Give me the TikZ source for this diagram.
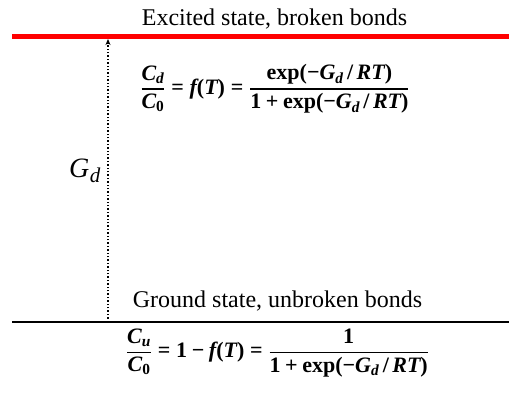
\documentclass[tikz,border=0pt]{standalone}
\usepackage{amsmath}
\usepackage{fontspec}
\setmainfont{Liberation Serif}
\usetikzlibrary{arrows.meta}
\newcommand{\bi}[1]{\text{\bfseries\itshape #1}}
\newcommand{\bu}[1]{\text{\bfseries #1}}
\tikzset{
  label/.style={inner sep=0pt, font=\fontsize{24}{28}\selectfont},
  biglabel/.style={inner sep=0pt, font=\fontsize{28}{32}\selectfont},
  formula/.style={inner sep=0pt, font=\fontsize{22}{26}\selectfont},
}
\begin{document}
\begin{tikzpicture}[x=1pt,y=-1pt]
\useasboundingbox (0,0) rectangle (509,394);
% levels
\coordinate (exL) at (12,36.5);
\coordinate (exR) at (509,36.5);
\coordinate (grL) at (12,322);
\coordinate (grR) at (509,322);
\draw[red, line width=5pt] (exL) -- (exR);
\draw[black, line width=2.5pt] (grL) -- (grR);
% arrow
\coordinate (arB) at (108,322);
\coordinate (arT) at (108,39);
\draw[line width=1.4pt, dash pattern=on 1.4pt off 2pt, -{Stealth[length=6pt,width=5pt]}] (arB) -- (arT);
% texts
\node[label, anchor=base] (excited) at (274.5,25) {Excited state, broken bonds};
\node[label, anchor=base] (ground) at (277.5,307.5) {Ground state, unbroken bonds};
\node[biglabel, anchor=base west] (gd) at (69,177) {\itshape G\kern0.5pt\raisebox{-5pt}{\fontsize{21}{24}\selectfont d}};
\node[formula] (f1) at (275,89) {$\displaystyle {\bi{C}_{\bi{d}} \above 1.3pt \bi{C}_{\bu{0}}} \mathrel{\bu{=}} \bi{f}\bu{(}\bi{T}\bu{)} \mathrel{\bu{=}} {\bu{exp(−}\bi{G}_{\bi{d}}\,\bu{/}\,\bi{RT}\bu{)} \above 1.3pt \bu{1}\mathbin{\bu{+}}\bu{exp(−}\bi{G}_{\bi{d}}\,\bu{/}\,\bi{RT}\bu{)}}$};
\node[formula] (f2) at (277.5,353) {$\displaystyle {\bi{C}_{\bi{u}} \above 1.3pt \bi{C}_{\bu{0}}} \mathrel{\bu{=}} \bu{1}\mathbin{\bu{−}}\bi{f}\bu{(}\bi{T}\bu{)} \mathrel{\bu{=}} {\bu{1} \above 1.3pt \bu{1}\mathbin{\bu{+}}\bu{exp(−}\bi{G}_{\bi{d}}\,\bu{/}\,\bi{RT}\bu{)}}$};
\end{tikzpicture}
\end{document}
